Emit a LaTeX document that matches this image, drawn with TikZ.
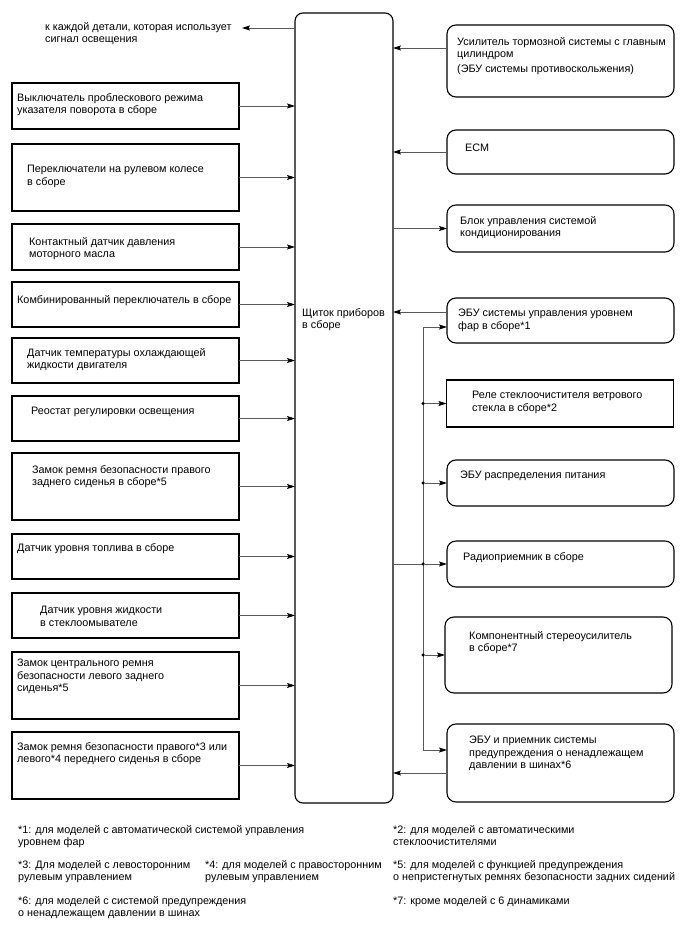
\documentclass[tikz,border=0pt]{standalone}
\usepackage{fontspec}
\setmainfont{Liberation Sans}
\usetikzlibrary{arrows.meta,calc}

\begin{document}
\begin{tikzpicture}[
  x=1pt, y=-1pt,
  >={Stealth[length=8pt,width=5pt,inset=1.5pt,color=black]},
  lbox/.style={draw, line width=1.1pt, minimum width=227pt, inner sep=0pt, outer sep=0pt},
  rbox/.style={lbox, rounded corners=9pt},
  txt/.style={anchor=north west, inner sep=0pt, align=left, font=\fontsize{10.8}{12.5}\selectfont},
  note/.style={txt, font=\fontsize{10.8}{12.6}\selectfont},
  arr/.style={->, line width=0.8pt, black!65},
  dot/.style={circle, fill=black, inner sep=0pt, minimum size=3.5pt}
]
  \useasboundingbox (0,0) rectangle (688,949);

  % Instrument panel
  \node[rbox, minimum width=98pt, minimum height=790pt, rounded corners=8pt] (panel) at (344,408) {};
  \node[txt] (plabel) at (302,308) {Щиток приборов\\в сборе};

  % Output to illumination
  \node[txt] (lamp) at (45,22) {к каждой детали, которая использует\\сигнал освещения};
  \coordinate (lampin) at (242,28);
  \draw[arr] ([yshift=-15pt]panel.north west) -- (lampin);

  % Left inputs
  \foreach \i/\yt/\yb/\tx/\ty/\txt in {
      1/83/129/17/93/{Выключатель проблескового режима\\указателя поворота в сборе},
      2/144/211/27/165/{Переключатели на рулевом колесе\\в сборе},
      3/224/270/29/237/{Контактный датчик давления\\моторного масла},
      4/282/327/17/295/{Комбинированный переключатель в сборе},
      5/338/383/27/348/{Датчик температуры охлаждающей\\жидкости двигателя},
      6/396/441/31/407/{Реостат регулировки освещения},
      7/453/520/32/465/{Замок ремня безопасности правого\\заднего сиденья в сборе*5},
      8/534/579/17/543/{Датчик уровня топлива в сборе},
      9/593/638/40/606/{Датчик уровня жидкости\\в стеклоомывателе},
      10/652/719/17/659/{Замок центрального ремня\\безопасности левого заднего\\сиденья*5},
      11/732/799/17/742/{Замок ремня безопасности правого*3 или\\левого*4 переднего сиденья в сборе}} {
    \node[lbox, minimum height={(\yb-\yt)*1pt}] (lb\i) at ({125.5},{(\yt+\yb)/2}) {};
    \node[txt] (lt\i) at (\tx,\ty) {\txt};
    \draw[arr] (lb\i.east) -- (lb\i.east -| panel.west);
  }

  % Right side units
  \foreach \n/\xc/\yt/\yb/\sty/\tx/\ty/\txt in {
      ra/560.5/25/97/rbox/457/37/{Усилитель тормозной системы с главным\\цилиндром\\[2pt](ЭБУ системы противоскольжения)},
      rb/560.5/130/174/rbox/465/144/{ECM},
      rc/560.5/205/252/rbox/460/216/{Блок управления системой\\кондиционирования},
      rd/560.5/298/343/rbox/458/309/{ЭБУ системы управления уровнем\\фар в сборе*1},
      re/560/380/427/lbox/472/391/{Реле стеклоочистителя ветрового\\стекла в сборе*2},
      rf/560.5/460/506/rbox/460/471/{ЭБУ распределения питания},
      rg/560.5/541/587/rbox/463/552/{Радиоприемник в сборе},
      rh/558.5/617/693/rbox/469/631/{Компонентный стереоусилитель\\в сборе*7},
      ri/560.5/724/802/rbox/469/736/{ЭБУ и приемник системы\\предупреждения о ненадлежащем\\давлении в шинах*6}} {
    \node[\sty, minimum height={(\yb-\yt)*1pt}] (\n) at ({\xc},{(\yt+\yb)/2}) {};
    \node[txt] (\n t) at (\tx,\ty) {\txt};
  }

  % Signals into the panel
  \draw[arr] ([yshift=-23pt]ra.north west) -- ([yshift=-23pt]ra.north west -| panel.east);
  \draw[arr] (rb.west) -- (rb.west -| panel.east);
  \draw[arr] (rc.west -| panel.east) -- (rc.west);
  \draw[arr] ([yshift=8.5pt]rd.west) -- ([yshift=8.5pt]rd.west -| panel.east);
  \draw[arr] ([yshift=-10pt]ri.west) -- ([yshift=-10pt]ri.west -| panel.east);

  % Bus to the units
  \coordinate (bus) at (423,0);
  \draw[arr, <->] ([yshift=-6.5pt]rd.west) -- ([yshift=-6.5pt]rd.west -| bus) |- ([yshift=13pt]ri.west);
  \draw[arr, -] (rg.west -| panel.east) -- (rg.west -| bus);
  \foreach \n in {re,rf,rg,rh} {
    \node[dot] (dot\n) at (\n.west -| bus) {};
    \draw[arr] (dot\n) -- (\n.west);
  }

  % Notes
  \node[note] (fn1) at (18,825) {*1: для моделей с автоматической системой управления\\уровнем фар};
  \node[note] (fn2) at (393,825) {*2: для моделей с автоматическими\\стеклоочистителями};
  \node[note] (fn3) at (18,860) {*3: Для моделей с левосторонним\\рулевым управлением};
  \node[note] (fn4) at (205,860) {*4: для моделей с правосторонним\\рулевым управлением};
  \node[note] (fn5) at (393,860) {*5: для моделей с функцией предупреждения\\о непристегнутых ремнях безопасности задних сидений};
  \node[note] (fn6) at (18,896) {*6: для моделей с системой предупреждения\\о ненадлежащем давлении в шинах};
  \node[note] (fn7) at (393,896) {*7: кроме моделей с 6 динамиками};
\end{tikzpicture}
\end{document}
